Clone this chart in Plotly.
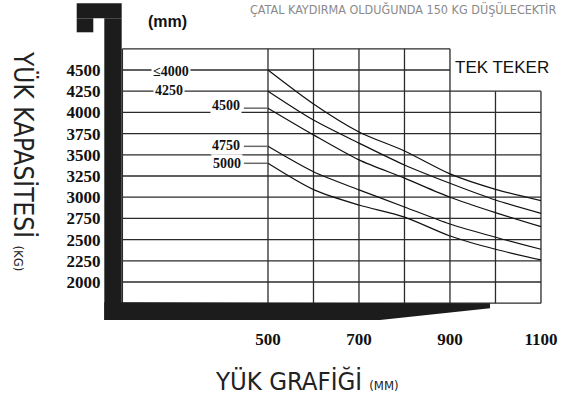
import plotly.graph_objects as go

# ---------------- data ----------------
load_center = [500, 600, 700, 800, 900, 1000, 1100]          # mm
lift_labels = ["≤4000", "4250", "4500", "4750", "5000"]       # lift height (mm)
cap_4000 = [4500, 4100, 3770, 3545, 3275, 3093, 2959]
cap_4250 = [4250, 3910, 3638, 3380, 3164, 2967, 2810]
cap_4500 = [4050, 3735, 3440, 3225, 3000, 2818, 2653]
cap_4750 = [3600, 3300, 3087, 2885, 2684, 2528, 2386]
cap_5000 = [3400, 3090, 2908, 2765, 2543, 2386, 2260]
curves = [cap_4000, cap_4250, cap_4500, cap_4750, cap_5000]

y_ticks = [2000, 2250, 2500, 2750, 3000, 3250, 3500, 3750, 4000, 4250, 4500]
y_tick_labels = [str(v) for v in y_ticks]
x_ticks = [500, 700, 900, 1100]
x_tick_labels = [str(v) for v in x_ticks]

grid_y = [1750, 2000, 2250, 2500, 2750, 3000, 3250, 3500, 3750, 4000, 4250, 4500, 4750]
grid_x = [500, 600, 700, 800, 900, 1000, 1100]

# ---------------- layout helpers ----------------
W, H = 562, 408
XR = [-89.0, 1146.2]
YR = [514.3, 5325.5]
GRID_LEFT = 180


def px(x):
    return x / W


def py(y):
    return 1 - y / H


GRID_COLOR = "#2b2b2b"
BLACK = "#1b1c1b"
THIN_FONT = "Liberation Sans Narrow, DejaVu Sans Condensed, sans-serif"
SERIF = "Liberation Serif, DejaVu Serif, serif"

fig = go.Figure()

shapes = []
# grid (stepped outline: top two rows stop at 900)
for yv in grid_y:
    x1 = 900 if yv > 4250 else 1100
    shapes.append(dict(type="line", xref="x", yref="y", x0=GRID_LEFT, x1=x1, y0=yv, y1=yv,
                       line=dict(color=GRID_COLOR, width=1.3), layer="below"))
for xv in grid_x:
    y1 = 4750 if xv <= 900 else 4250
    shapes.append(dict(type="line", xref="x", yref="y", x0=xv, x1=xv, y0=1750, y1=y1,
                       line=dict(color=GRID_COLOR, width=1.3), layer="below"))
shapes.append(dict(type="line", xref="x", yref="y", x0=GRID_LEFT, x1=GRID_LEFT, y0=1750, y1=4750,
                   line=dict(color=GRID_COLOR, width=1.3), layer="below"))

# leader lines for the lower three curves
for yv in [cap_4500[0], cap_4750[0], cap_5000[0]]:
    shapes.append(dict(type="line", xref="x", yref="y", x0=447, x1=500, y0=yv, y1=yv,
                       line=dict(color="#6a6a6a", width=1.5), layer="below"))

# black fork outline (decoration)
def rect(x0, y0, x1, y1):
    return dict(type="rect", xref="paper", yref="paper", x0=px(x0), x1=px(x1), y0=py(y1), y1=py(y0),
                fillcolor=BLACK, line=dict(width=0), layer="above")

shapes.append(rect(76.7, 3.3, 121.7, 18.3))
shapes.append(rect(76.7, 18.3, 93.3, 32.3))
shapes.append(rect(104.3, 18.3, 121.7, 320))
pts = [(104.3, 302.3), (490, 303.3), (490, 308.3), (380, 320), (104.3, 320)]
path = "M " + " L ".join(f"{px(a):.5f},{py(b):.5f}" for a, b in pts) + " Z"
shapes.append(dict(type="path", xref="paper", yref="paper", path=path,
                   fillcolor=BLACK, line=dict(width=0), layer="above"))

# curves
for vals, name in zip(curves, lift_labels):
    fig.add_trace(go.Scatter(x=load_center, y=vals, mode="lines", name=name,
                             line=dict(color="#111111", width=1.2, shape="spline", smoothing=0.8),
                             hoverinfo="skip", showlegend=False))

annotations = []
# curve labels
label_pos = [(171, 71), (169, 90), (226, 106), (226, 145.5), (227, 163)]
for (ax, ay), name in zip(label_pos, lift_labels):
    annotations.append(dict(x=px(ax), y=py(ay), xref="paper", yref="paper", text=name, showarrow=False,
                            xanchor="center", yanchor="middle", bgcolor="white", borderpad=1,
                            font=dict(family=SERIF, size=14, color="#111111", weight="bold")))

annotations += [
    dict(x=px(167), y=py(21), xref="paper", yref="paper", text="(mm)", showarrow=False,
         xanchor="center", yanchor="middle",
         font=dict(family="Liberation Sans, Arial, sans-serif", size=16, color="#111111", weight="bold")),
    dict(x=px(502), y=py(68), xref="paper", yref="paper", text="TEK TEKER", showarrow=False,
         xanchor="center", yanchor="middle",
         font=dict(family="Liberation Sans, Arial, sans-serif", size=17, color="#111111")),
    dict(x=px(558), y=py(9), xref="paper", yref="paper", xanchor="right", yanchor="middle",
         text="ÇATAL KAYDIRMA OLDUĞUNDA 150 KG DÜŞÜLECEKTİR", showarrow=False,
         font=dict(family=THIN_FONT, size=12.5, color="#8a8a8a")),
    dict(x=px(213), y=py(381), xref="paper", yref="paper", xanchor="left", yanchor="middle",
         text="YÜK GRAFİĞİ <span style='font-size:13px'>(MM)</span>", showarrow=False,
         font=dict(family=THIN_FONT, size=25.5, color="#222222")),
    dict(x=px(23), y=py(161), xref="paper", yref="paper", xanchor="center", yanchor="middle",
         text="YÜK KAPASİTESİ <span style='font-size:13px'>(KG)</span>", showarrow=False, textangle=90,
         font=dict(family=THIN_FONT, size=26, color="#222222")),
]

fig.update_layout(
    width=W, height=H, margin=dict(l=0, r=0, t=0, b=0),
    paper_bgcolor="white", plot_bgcolor="white",
    shapes=shapes, annotations=annotations, showlegend=False,
    xaxis=dict(range=XR, tickvals=x_ticks, ticktext=x_tick_labels, showgrid=False, zeroline=False,
               showline=False, ticks="", anchor="free", position=0.198,
               tickfont=dict(family=SERIF, size=17, color="#111111", weight="bold"), fixedrange=True),
    yaxis=dict(range=YR, tickvals=y_ticks, ticktext=y_tick_labels, showgrid=False, zeroline=False,
               showline=False, ticks="", anchor="free", position=0.179,
               tickfont=dict(family=SERIF, size=17, color="#111111", weight="bold"), fixedrange=True),
)

fig.write_html("out.html", config={"displayModeBar": False},
               post_script="document.body.style.margin='0';document.body.style.overflow='hidden';")
